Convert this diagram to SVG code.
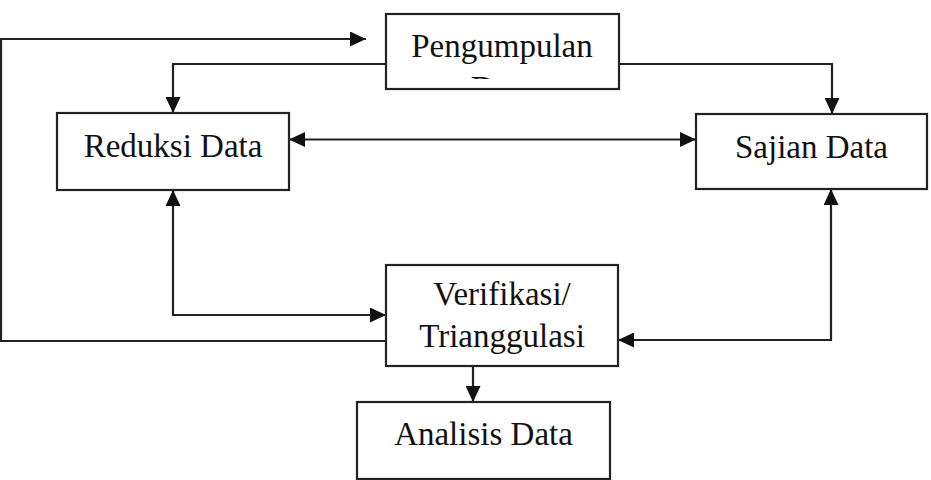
<svg xmlns="http://www.w3.org/2000/svg" width="931" height="480" viewBox="0 0 931 480">
  <style>
    .box { fill: #ffffff; stroke: #222222; stroke-width: 2.2; }
    .lbl { font-family: "Liberation Serif", "Times New Roman", serif; font-size: 33px; fill: #111111; text-anchor: middle; }
    .con { fill: none; stroke: #222222; stroke-width: 2.2; }
  </style>
  <defs>
    <marker id="ah" viewBox="0 0 16 15" refX="16" refY="7.5" markerWidth="16" markerHeight="15" markerUnits="userSpaceOnUse" orient="auto-start-reverse">
      <path d="M0,0 L16,7.5 L0,15 z" fill="#111111"/>
    </marker>
    <clipPath id="clipP">
      <rect x="386" y="14" width="233" height="65"/>
    </clipPath>
  </defs>

  <g id="connectors">
    <polyline class="con" points="386,64 173,64 173,113" marker-end="url(#ah)"/>
    <polyline class="con" points="619,64 832,64 832,114" marker-end="url(#ah)"/>
    <line class="con" x1="289" y1="139.5" x2="696" y2="139.5" marker-start="url(#ah)" marker-end="url(#ah)"/>
    <polyline class="con" points="173,190 173,315 386,315" marker-start="url(#ah)" marker-end="url(#ah)"/>
    <polyline class="con" points="831,189 831,340 618,340" marker-start="url(#ah)" marker-end="url(#ah)"/>
    <polyline class="con" points="386,341 1,341 1,39 366,39" marker-end="url(#ah)"/>
    <line class="con" x1="473" y1="366" x2="473" y2="402" marker-end="url(#ah)"/>
  </g>

  <g id="pengumpulan">
    <rect class="box" x="386" y="14" width="233" height="75"/>
    <g clip-path="url(#clipP)">
      <text class="lbl" x="502" y="57">Pengumpulan</text>
      <text class="lbl" x="502" y="99">Data</text>
    </g>
  </g>
  <g id="reduksi">
    <rect class="box" x="57" y="113" width="232" height="77"/>
    <text class="lbl" x="173" y="157">Reduksi Data</text>
  </g>
  <g id="sajian">
    <rect class="box" x="696" y="114" width="231" height="75"/>
    <text class="lbl" x="811.5" y="158">Sajian Data</text>
  </g>
  <g id="verifikasi">
    <rect class="box" x="386" y="265" width="232" height="101"/>
    <text class="lbl" x="502" y="305">Verifikasi/</text>
    <text class="lbl" x="502" y="347">Trianggulasi</text>
  </g>
  <g id="analisis">
    <rect class="box" x="357" y="402" width="253" height="77"/>
    <text class="lbl" x="483.5" y="445">Analisis Data</text>
  </g>
</svg>
